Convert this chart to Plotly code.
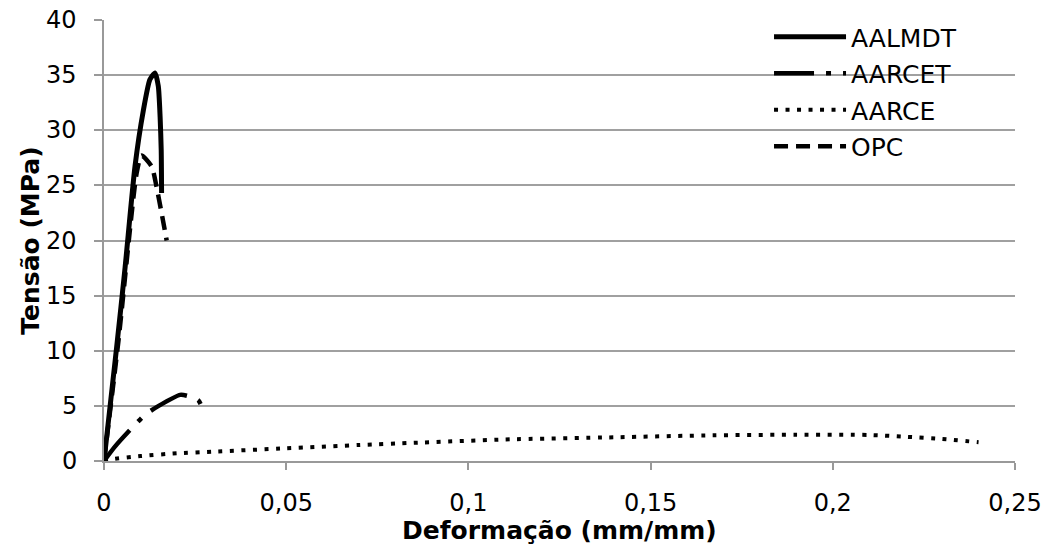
import plotly.graph_objects as go

# AALMDT
aalmdt_x = [0, 0.0035, 0.0058, 0.0085, 0.0108, 0.0126, 0.0140, 0.0149, 0.0154, 0.0157, 0.0158]
aalmdt_y = [0, 10.4, 17.6, 26.7, 31.8, 34.6, 35.2, 34.0, 31.2, 28.2, 24.3]
# AARCET
aarcet_x = [0, 0.003, 0.0071, 0.0113, 0.015, 0.0209, 0.023, 0.0259, 0.0277]
aarcet_y = [0, 1.3, 2.8, 4.2, 5.0, 6.0, 5.9, 5.5, 4.2]
# AARCE
aarce_x = [0, 0.002, 0.01, 0.02, 0.03, 0.05, 0.07, 0.085, 0.11, 0.14, 0.167, 0.19, 0.21, 0.22, 0.23, 0.24]
aarce_y = [0, 0.15, 0.45, 0.7, 0.85, 1.15, 1.45, 1.65, 1.95, 2.15, 2.33, 2.38, 2.36, 2.2, 2.0, 1.7]
# OPC
opc_x = [0, 0.004, 0.0089, 0.0103, 0.0131, 0.0144, 0.0158, 0.0172]
opc_y = [0, 11.0, 26.0, 27.7, 26.7, 24.9, 22.5, 20.0]

x_ticks = [0, 0.05, 0.1, 0.15, 0.2, 0.25]
x_tick_labels = ["0", "0,05", "0,1", "0,15", "0,2", "0,25"]
y_ticks = [0, 5, 10, 15, 20, 25, 30, 35, 40]
y_tick_labels = ["0", "5", "10", "15", "20", "25", "30", "35", "40"]

x_title = "Deformação (mm/mm)"
y_title = "Tensão (MPa)"

FONT = "DejaVu Sans"

fig = go.Figure()
series = [
    ("AALMDT", aalmdt_x, aalmdt_y, "solid", 5),
    ("AARCET", aarcet_x, aarcet_y, "40px,12px,5px,12px", 4.5),
    ("AARCE", aarce_x, aarce_y, "4px,7.5px", 4),
    ("OPC", opc_x, opc_y, "14px,8px", 4.5),
]
for name, xs, ys, dash, w in series:
    fig.add_trace(go.Scatter(x=xs, y=ys, mode="lines", name=name, legendgroup=name,
                             line=dict(color="black", width=w, dash=dash, shape="spline", smoothing=0.6)))

fig.update_layout(
    width=1049, height=548,
    margin=dict(l=104, r=34, t=20, b=87, autoexpand=False),
    plot_bgcolor="white", paper_bgcolor="white",
    font=dict(family=FONT, size=24, color="black"),
    showlegend=True,
    legend=dict(x=0.730, y=1.0136, xanchor="left", yanchor="top", bgcolor="rgba(0,0,0,0)",
                itemwidth=72, tracegroupgap=1, font=dict(size=25, family=FONT)),
)
fig.add_annotation(text="<b>" + x_title + "</b>", xref="paper", yref="paper",
                   x=0.5, y=-0.157, xanchor="center", yanchor="middle", showarrow=False,
                   font=dict(size=25, family=FONT, color="black"))
fig.add_annotation(text="<b>" + y_title + "</b>", xref="paper", yref="paper",
                   x=-0.081, y=0.5, xanchor="center", yanchor="middle", showarrow=False,
                   textangle=-90, font=dict(size=25, family=FONT, color="black"))
# y tick labels placed further from the axis, as in the reference
for val, lab in zip(y_ticks, y_tick_labels):
    fig.add_annotation(text=lab, xref="paper", yref="y", x=-0.0274, y=val,
                       xanchor="right", yanchor="middle", showarrow=False,
                       font=dict(size=24, family=FONT, color="black"))

fig.update_xaxes(range=[0, 0.25], tickvals=x_ticks, ticktext=x_tick_labels,
                 showgrid=False, showline=True, linecolor="#999999", linewidth=1.5,
                 ticks="outside", ticklen=7, tickcolor="#999999", tickwidth=1.5,
                 ticklabelstandoff=12, automargin=False, ticklabeloverflow="allow",
                 zeroline=False, tickfont=dict(size=24))
fig.update_yaxes(range=[0, 40], tickvals=y_ticks, showticklabels=False,
                 showgrid=True, gridcolor="#a0a0a0", gridwidth=1.5,
                 showline=True, linecolor="#999999", linewidth=1.5,
                 ticks="outside", ticklen=8, tickcolor="#999999", tickwidth=1.5,
                 automargin=False, zeroline=False)

fig.write_html("out.html", config={"displayModeBar": False},
               post_script="document.body.style.margin='0';")
